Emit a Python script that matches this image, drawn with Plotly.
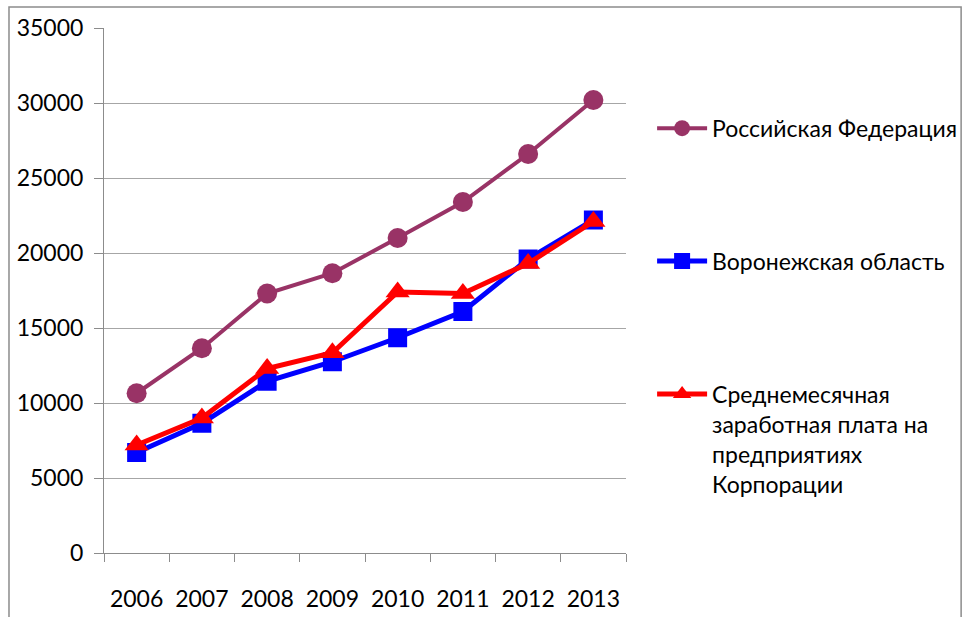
import plotly.graph_objects as go

years = ["2006", "2007", "2008", "2009", "2010", "2011", "2012", "2013"]
russia = [10650, 13650, 17300, 18650, 21000, 23400, 26600, 30200]
voronezh = [6700, 8650, 11450, 12750, 14350, 16100, 19600, 22200]
corporation = [7200, 9000, 12300, 13350, 17400, 17300, 19300, 22100]

names = [
    "Российская Федерация",
    "Воронежская область",
    "Среднемесячная<br>заработная плата на<br>предприятиях<br>Корпорации",
]

FONT = "Lato, 'Open Sans', sans-serif"

fig = go.Figure()
fig.add_trace(go.Scatter(
    x=years, y=russia, name=names[0], mode="lines+markers", legendgroup="a",
    line=dict(color="#993366", width=4),
    marker=dict(symbol="circle", size=20, color="#993366"),
))
fig.add_trace(go.Scatter(
    x=years, y=voronezh, name=names[1], mode="lines+markers", legendgroup="b",
    line=dict(color="#0000FF", width=5),
    marker=dict(symbol="square", size=19, color="#0000FF"),
))
fig.add_trace(go.Scatter(
    x=years, y=corporation, name=names[2], mode="lines+markers", legendgroup="c",
    line=dict(color="#FF0000", width=5),
    marker=dict(symbol="triangle-up", size=21, color="#FF0000"),
))

# outer chart frame
fig.add_shape(type="rect", xref="paper", yref="paper",
              x0=-0.182, x1=1.642, y0=-0.2, y1=1.04,
              line=dict(color="#8c8c8c", width=1.5), fillcolor="rgba(0,0,0,0)",
              layer="below")

fig.update_layout(
    width=963, height=617,
    margin=dict(l=104, r=337, t=28, b=64, autoexpand=False),
    paper_bgcolor="white", plot_bgcolor="white",
    font=dict(family=FONT, color="#000000", size=23),
    showlegend=True,
    legend=dict(
        x=1.05, xanchor="left", y=0.85, yanchor="top",
        font=dict(family=FONT, size=23, color="#000000"),
        traceorder="grouped", tracegroupgap=100, valign="top",
        bgcolor="rgba(0,0,0,0)", borderwidth=0, itemwidth=50,
    ),
    xaxis=dict(
        type="category", range=[-0.5, 7.5], tickson="boundaries",
        ticks="outside", ticklen=8, automargin=False,
        tickcolor="#8c8c8c", showgrid=False, showline=True, linecolor="#8c8c8c",
        linewidth=1, tickfont=dict(size=23), ticklabelstandoff=25,
    ),
    yaxis=dict(
        range=[0, 35000], dtick=5000, tick0=0, tickformat="d",
        ticks="outside", ticklen=9, automargin=False,
        tickcolor="#8c8c8c", showgrid=True, gridcolor="#a6a6a6", gridwidth=1,
        showline=True, linecolor="#8c8c8c", linewidth=1, zeroline=False,
        tickfont=dict(size=23), ticklabelstandoff=6,
    ),
)

fig.write_html("out.html")
